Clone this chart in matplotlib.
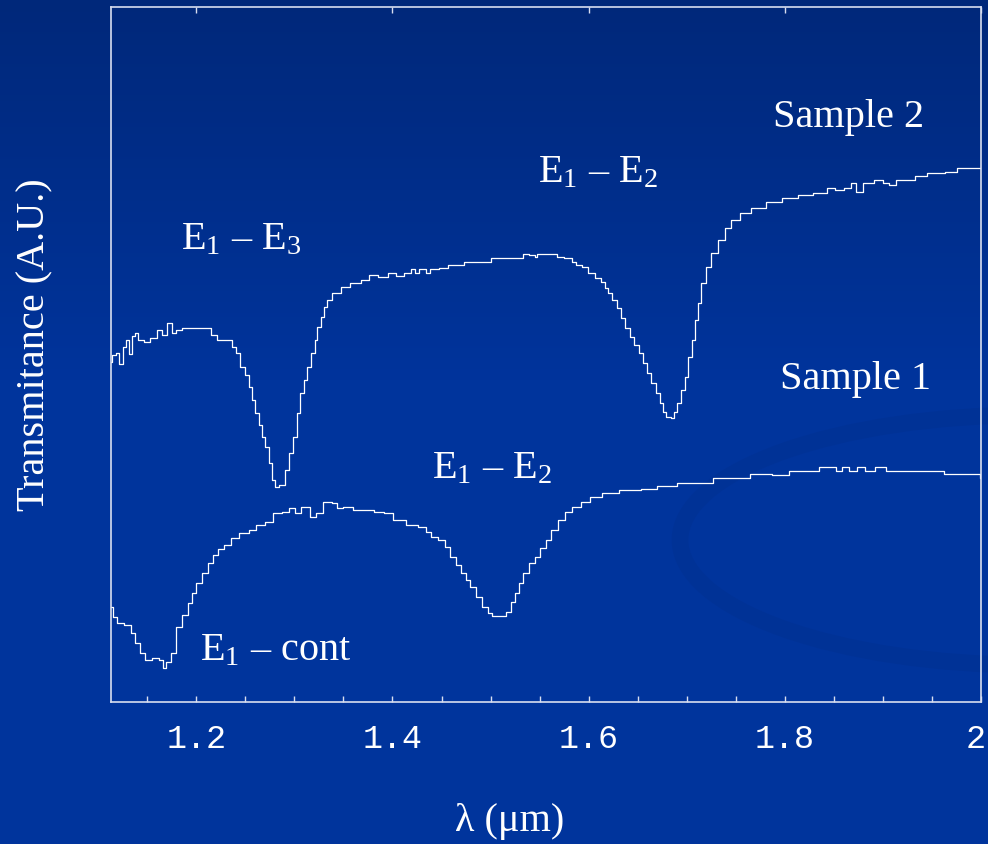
import numpy as np
import matplotlib
matplotlib.use("Agg")
import matplotlib.pyplot as plt
import matplotlib.transforms as mtransforms
from matplotlib.patches import Ellipse, Arc
from matplotlib.ticker import MultipleLocator

# wavelength (um) and transmittance (A.U.)
lam2 = [1.113, 1.116, 1.120, 1.123, 1.127, 1.130, 1.133, 1.136, 1.138, 1.143,
        1.150, 1.156, 1.163, 1.168, 1.173, 1.177, 1.181, 1.189, 1.199, 1.212,
        1.217, 1.225, 1.235, 1.238, 1.243, 1.247, 1.252, 1.255, 1.258, 1.262,
        1.265, 1.268, 1.273, 1.276, 1.279, 1.281, 1.288, 1.293, 1.296, 1.301,
        1.304, 1.308, 1.311, 1.314, 1.319, 1.322, 1.325, 1.329, 1.332, 1.335,
        1.342, 1.352, 1.362, 1.373, 1.380, 1.390, 1.400, 1.408, 1.416, 1.421,
        1.424, 1.431, 1.437, 1.439, 1.456, 1.457, 1.472, 1.473, 1.498, 1.502,
        1.533, 1.534, 1.544, 1.546, 1.548, 1.567, 1.568, 1.582, 1.584, 1.590,
        1.597, 1.602, 1.610, 1.615, 1.618, 1.621, 1.626, 1.631, 1.635, 1.640,
        1.645, 1.648, 1.654, 1.657, 1.662, 1.666, 1.671, 1.674, 1.677, 1.681,
        1.686, 1.689, 1.692, 1.696, 1.700, 1.703, 1.707, 1.710, 1.713, 1.717,
        1.722, 1.728, 1.735, 1.742, 1.749, 1.759, 1.773, 1.788, 1.807, 1.820,
        1.837, 1.848, 1.855, 1.865, 1.870, 1.876, 1.883, 1.899, 1.902, 1.911,
        1.916, 1.929, 1.937, 1.952, 1.975, 1.977, 2.000]
t2 = [3.40, 3.47, 3.49, 3.38, 3.55, 3.62, 3.48, 3.66, 3.69, 3.62,
      3.60, 3.64, 3.72, 3.67, 3.79, 3.69, 3.72, 3.74, 3.74, 3.74,
      3.67, 3.62, 3.62, 3.55, 3.49, 3.35, 3.27, 3.15, 3.02, 2.89,
      2.77, 2.65, 2.55, 2.39, 2.22, 2.15, 2.17, 2.32, 2.49, 2.65,
      2.89, 3.09, 3.22, 3.35, 3.49, 3.62, 3.75, 3.85, 3.95, 4.02,
      4.09, 4.15, 4.19, 4.22, 4.27, 4.25, 4.29, 4.26, 4.29, 4.33,
      4.29, 4.33, 4.29, 4.33, 4.34, 4.37, 4.37, 4.40, 4.40, 4.44,
      4.44, 4.48, 4.47, 4.45, 4.48, 4.48, 4.45, 4.44, 4.40, 4.37,
      4.35, 4.29, 4.24, 4.20, 4.14, 4.09, 4.02, 3.94, 3.84, 3.74,
      3.65, 3.57, 3.49, 3.39, 3.29, 3.19, 3.09, 2.99, 2.90, 2.85,
      2.84, 2.90, 2.99, 3.12, 3.25, 3.45, 3.62, 3.82, 3.99, 4.19,
      4.35, 4.49, 4.62, 4.74, 4.82, 4.89, 4.94, 5.00, 5.04, 5.07,
      5.09, 5.14, 5.12, 5.14, 5.19, 5.10, 5.19, 5.22, 5.19, 5.17,
      5.22, 5.22, 5.26, 5.29, 5.30, 5.34, 5.34]

lam1 = [1.113, 1.117, 1.122, 1.131, 1.135, 1.140, 1.145, 1.151, 1.158, 1.165,
        1.168, 1.171, 1.177, 1.182, 1.189, 1.194, 1.197, 1.202, 1.209, 1.214,
        1.219, 1.225, 1.232, 1.238, 1.250, 1.257, 1.265, 1.274, 1.283, 1.291,
        1.298, 1.303, 1.311, 1.320, 1.325, 1.334, 1.342, 1.345, 1.355, 1.365,
        1.376, 1.386, 1.396, 1.406, 1.422, 1.431, 1.437, 1.442, 1.451, 1.456,
        1.462, 1.467, 1.472, 1.477, 1.482, 1.488, 1.495, 1.500, 1.503, 1.513,
        1.518, 1.523, 1.526, 1.531, 1.536, 1.543, 1.548, 1.553, 1.559, 1.565,
        1.572, 1.579, 1.587, 1.597, 1.606, 1.621, 1.640, 1.667, 1.672, 1.708,
        1.745, 1.784, 1.789, 1.819, 1.850, 1.855, 1.861, 1.870, 1.878, 1.885,
        1.899, 1.907, 1.962, 1.963, 1.997, 2.000]
t1 = [0.95, 0.85, 0.79, 0.77, 0.69, 0.59, 0.49, 0.42, 0.44, 0.42,
      0.34, 0.40, 0.49, 0.75, 0.87, 0.99, 1.09, 1.19, 1.29, 1.39,
      1.47, 1.53, 1.57, 1.64, 1.69, 1.72, 1.77, 1.80, 1.89, 1.90,
      1.94, 1.89, 1.95, 1.85, 1.89, 2.00, 1.99, 1.94, 1.95, 1.92,
      1.92, 1.90, 1.89, 1.82, 1.77, 1.75, 1.70, 1.65, 1.62, 1.55,
      1.45, 1.37, 1.29, 1.22, 1.15, 1.05, 0.95, 0.89, 0.86, 0.86,
      0.90, 1.00, 1.09, 1.19, 1.29, 1.39, 1.45, 1.54, 1.62, 1.72,
      1.82, 1.90, 1.95, 2.00, 2.05, 2.09, 2.12, 2.13, 2.16, 2.19,
      2.24, 2.28, 2.27, 2.31, 2.35, 2.31, 2.35, 2.31, 2.35, 2.31,
      2.35, 2.31, 2.31, 2.28, 2.28, 2.24]

# annotation labels: (text, wavelength, transmittance at baseline)
labels = [("Sample 2", 1.788, 5.75),
          ("Sample 1", 1.795, 3.13),
          ("E$_1$ – E$_3$", 1.184, 4.53),
          ("E$_1$ – E$_2$", 1.548, 5.20),
          ("E$_1$ – E$_2$", 1.440, 2.24),
          ("E$_1$ – cont", 1.204, 0.42)]

xticks = [1.2, 1.4, 1.6, 1.8, 2.0]
xticklabels = ["1.2", "1.4", "1.6", "1.8", "2"]

plt.rcParams["mathtext.fontset"] = "custom"
plt.rcParams["mathtext.rm"] = "Liberation Serif"
plt.rcParams["mathtext.it"] = "Liberation Serif:italic"

W, H = 988, 844
fig = plt.figure(figsize=(W / 100, H / 100), dpi=100)

# slide background
bg = fig.add_axes([0, 0, 1, 1], zorder=0)
top = np.array([0, 40, 122]) / 255
mid = np.array([0, 52, 156]) / 255
s = np.clip(np.linspace(0, 1, H) / 0.45, 0, 1)[:, None]
grad = top * (1 - s) + mid * s
bg.imshow(np.repeat(grad[:, None, :], 2, axis=1), extent=[0, W, H, 0], aspect="auto")
bg.add_patch(Arc((1250, 1700), 2000, 1900, theta1=92, theta2=125,
                 color="#00308f", lw=34, alpha=0.6))
bg.add_patch(Ellipse((1030, 540), 700, 250, fill=False,
                     edgecolor="#00308f", lw=12, alpha=0.45))
bg.set_xlim(0, W)
bg.set_ylim(H, 0)
bg.axis("off")

ax = fig.add_axes([111 / W, 1 - 702 / H, 870 / W, 695 / H], zorder=1)
ax.set_facecolor("none")

ax.plot(lam2, t2, drawstyle="steps-mid", color="white", lw=0.9)
ax.plot(lam1, t1, drawstyle="steps-mid", color="white", lw=0.9)

for txt, x, y in labels:
    ax.text(x, y, txt, color="white", fontsize=29, family="Liberation Serif",
            ha="left", va="baseline")

ax.set_xlim(1.113, 2.0)
ax.set_ylim(0, 6.95)
ax.set_yticks([])
ax.set_xticks(xticks)
ax.set_xticklabels(xticklabels, family="Liberation Mono", fontsize=24, color="white")
ax.xaxis.set_minor_locator(MultipleLocator(0.05))
ax.tick_params(axis="x", which="both", direction="in", length=4, width=1,
               color="#d8def0", top=False, pad=16)
# keep the last label inside the canvas
last = ax.get_xticklabels()[-1]
last.set_transform(last.get_transform()
                   + mtransforms.ScaledTranslation(-5 / 100, 0, fig.dpi_scale_trans))
sec = ax.secondary_xaxis("top")
sec.set_xticks(xticks)
sec.set_xticklabels([])
sec.tick_params(direction="in", length=4, width=1, color="#d8def0")
sec.spines["top"].set_visible(False)
for sp in ax.spines.values():
    sp.set_color("#d8def0")
    sp.set_linewidth(1.2)

fig.text(510 / W, 1 - 822 / H, "λ (μm)", color="white", fontsize=29,
         family="Liberation Serif", ha="center", va="center")
fig.text(35 / W, 1 - 345 / H, "Transmitance (A.U.)", color="white", fontsize=29,
         family="Liberation Serif", ha="center", va="center", rotation=90)

fig.savefig("out.png", dpi=100)
